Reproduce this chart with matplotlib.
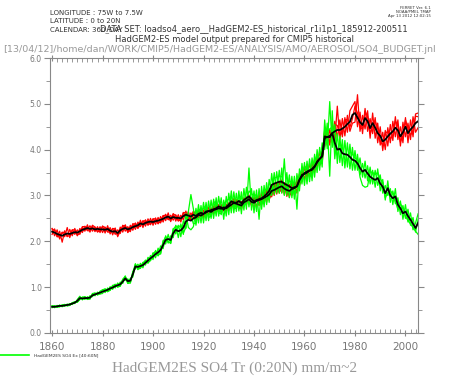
import numpy as np
import matplotlib.pyplot as plt
from matplotlib.ticker import MultipleLocator, FormatStrFormatter

years = np.arange(1860, 2006)

# ensemble mean, red (Tr 0:20N)
red_mean = [2.21, 2.19, 2.16, 2.14, 2.12, 2.15, 2.17, 2.16, 2.18, 2.20,
            2.19, 2.22, 2.25, 2.27, 2.29, 2.27, 2.28, 2.26, 2.27, 2.26,
            2.26, 2.25, 2.27, 2.23, 2.21, 2.22, 2.18, 2.24, 2.27, 2.29,
            2.26, 2.28, 2.31, 2.33, 2.35, 2.39, 2.37, 2.40, 2.42, 2.43,
            2.42, 2.44, 2.45, 2.47, 2.49, 2.52, 2.54, 2.50, 2.53, 2.51,
            2.51, 2.50, 2.55, 2.58, 2.56, 2.54, 2.58, 2.55, 2.60, 2.62,
            2.60, 2.63, 2.66, 2.64, 2.68, 2.70, 2.72, 2.71, 2.74, 2.72,
            2.76, 2.80, 2.84, 2.82, 2.80, 2.78, 2.85, 2.88, 2.92, 2.86,
            2.84, 2.88, 2.90, 2.92, 2.95, 2.98, 3.02, 3.10, 3.12, 3.15,
            3.18, 3.20, 3.15, 3.12, 3.10, 3.14, 3.16, 3.20, 3.34, 3.42,
            3.49, 3.52, 3.55, 3.58, 3.64, 3.72, 3.80, 3.86, 4.25, 4.28,
            4.27, 4.36, 4.40, 4.43, 4.43, 4.46, 4.50, 4.56, 4.61, 4.76,
            4.80, 4.70, 4.60, 4.54, 4.69, 4.62, 4.47, 4.58, 4.48, 4.36,
            4.30, 4.18, 4.22, 4.29, 4.35, 4.40, 4.48, 4.42, 4.29, 4.38,
            4.50, 4.36, 4.44, 4.50, 4.58, 4.62]

red_r1 = [2.28, 2.12, 2.25, 2.05, 2.20, 2.10, 2.30, 2.08, 2.25, 2.15,
          2.25, 2.15, 2.30, 2.22, 2.36, 2.20, 2.33, 2.21, 2.32, 2.19,
          2.33, 2.18, 2.34, 2.16, 2.28, 2.15, 2.25, 2.17, 2.35, 2.22,
          2.32, 2.21, 2.38, 2.26, 2.42, 2.32, 2.45, 2.33, 2.49, 2.36,
          2.49, 2.37, 2.52, 2.40, 2.56, 2.45, 2.62, 2.43, 2.60, 2.44,
          2.58, 2.42, 2.63, 2.50, 2.65, 2.46, 2.66, 2.47, 2.68, 2.54,
          2.68, 2.55, 2.75, 2.56, 2.77, 2.62, 2.80, 2.63, 2.83, 2.64,
          2.84, 2.71, 2.93, 2.74, 2.89, 2.69, 2.95, 2.79, 3.01, 2.77,
          2.96, 2.74, 3.02, 2.80, 3.08, 2.85, 3.15, 2.97, 3.25, 3.03,
          3.31, 3.06, 3.28, 2.98, 3.24, 3.00, 3.30, 3.05, 3.48, 3.30,
          3.64, 3.38, 3.70, 3.45, 3.80, 3.58, 3.96, 3.70, 4.42, 4.10,
          4.45, 4.15, 4.62, 4.25, 4.65, 4.28, 4.70, 4.38, 4.85, 4.95,
          5.05, 4.50, 4.82, 4.35, 4.90, 4.40, 4.68, 4.35, 4.70, 4.15,
          4.50, 3.98, 4.42, 4.08, 4.55, 4.20, 4.72, 4.22, 4.50, 4.15,
          4.70, 4.15, 4.65, 4.28, 4.78, 4.80]

red_r2 = [2.15, 2.27, 2.10, 2.22, 1.98, 2.23, 2.10, 2.26, 2.12, 2.28,
          2.12, 2.28, 2.19, 2.33, 2.24, 2.34, 2.22, 2.31, 2.20, 2.32,
          2.19, 2.31, 2.20, 2.30, 2.14, 2.29, 2.10, 2.31, 2.20, 2.36,
          2.19, 2.35, 2.24, 2.40, 2.28, 2.46, 2.30, 2.47, 2.35, 2.50,
          2.35, 2.51, 2.38, 2.54, 2.42, 2.59, 2.47, 2.57, 2.46, 2.58,
          2.44, 2.57, 2.47, 2.66, 2.48, 2.62, 2.50, 2.63, 2.52, 2.70,
          2.52, 2.71, 2.58, 2.73, 2.60, 2.79, 2.64, 2.80, 2.66, 2.81,
          2.68, 2.89, 2.76, 2.91, 2.71, 2.87, 2.76, 2.97, 2.83, 2.95,
          2.70, 3.00, 2.78, 3.05, 2.82, 3.12, 2.90, 3.22, 3.00, 3.28,
          3.05, 3.34, 3.02, 3.26, 2.96, 3.28, 3.02, 3.35, 3.20, 3.55,
          3.35, 3.66, 3.40, 3.72, 3.50, 3.88, 3.65, 4.02, 4.08, 4.45,
          4.10, 4.60, 4.20, 4.95, 4.22, 4.68, 4.30, 4.75, 4.40, 4.58,
          4.60, 5.20, 4.40, 4.75, 4.45, 4.85, 4.25, 4.80, 4.25, 4.58,
          4.10, 4.38, 4.00, 4.48, 4.15, 4.62, 4.28, 4.65, 4.08, 4.60,
          4.28, 4.58, 4.22, 4.72, 4.38, 4.48]

red_r3 = [2.27, 2.24, 2.10, 2.10, 2.19, 2.20, 2.11, 2.12, 2.25, 2.25,
          2.13, 2.18, 2.32, 2.32, 2.23, 2.23, 2.35, 2.31, 2.21, 2.22,
          2.33, 2.30, 2.21, 2.19, 2.28, 2.27, 2.12, 2.20, 2.34, 2.34,
          2.20, 2.24, 2.38, 2.38, 2.29, 2.35, 2.44, 2.45, 2.36, 2.39,
          2.49, 2.49, 2.39, 2.43, 2.56, 2.57, 2.48, 2.46, 2.60, 2.56,
          2.45, 2.46, 2.62, 2.63, 2.50, 2.50, 2.65, 2.60, 2.54, 2.58,
          2.68, 2.68, 2.59, 2.60, 2.75, 2.75, 2.65, 2.67, 2.81, 2.77,
          2.69, 2.75, 2.92, 2.88, 2.72, 2.73, 2.93, 2.94, 2.84, 2.81,
          2.94, 2.95, 2.80, 2.86, 3.05, 3.06, 2.92, 3.03, 3.22, 3.22,
          3.08, 3.13, 3.25, 3.19, 3.00, 3.07, 3.26, 3.27, 3.24, 3.35,
          3.62, 3.62, 3.43, 3.50, 3.77, 3.82, 3.68, 3.78, 4.40, 4.38,
          4.15, 4.26, 4.55, 4.53, 4.31, 4.38, 4.65, 4.66, 4.49, 4.68,
          4.95, 4.80, 4.48, 4.46, 4.84, 4.72, 4.35, 4.50, 4.63, 4.46,
          4.18, 4.10, 4.37, 4.39, 4.23, 4.32, 4.63, 4.52, 4.17, 4.30,
          4.65, 4.46, 4.32, 4.42, 4.73, 4.72]

# ensemble mean, green (Ex 40:60N)
green_mean = [0.57, 0.57, 0.58, 0.59, 0.59, 0.60, 0.61, 0.62, 0.64, 0.66,
              0.70, 0.76, 0.75, 0.76, 0.76, 0.77, 0.82, 0.84, 0.86, 0.88,
              0.90, 0.92, 0.94, 0.97, 0.99, 1.02, 1.04, 1.06, 1.12, 1.19,
              1.13, 1.14, 1.28, 1.45, 1.44, 1.46, 1.48, 1.53, 1.58, 1.63,
              1.67, 1.72, 1.76, 1.81, 1.92, 2.03, 2.05, 2.03, 2.18, 2.25,
              2.22, 2.24, 2.30, 2.43, 2.47, 2.45, 2.50, 2.52, 2.58, 2.56,
              2.60, 2.65, 2.66, 2.68, 2.70, 2.72, 2.76, 2.74, 2.69, 2.75,
              2.80, 2.87, 2.85, 2.84, 2.88, 2.83, 2.90, 2.94, 2.98, 2.92,
              2.87, 2.90, 2.92, 2.94, 2.98, 3.03, 3.10, 3.23, 3.26, 3.28,
              3.30, 3.30, 3.26, 3.23, 3.20, 3.16, 3.18, 3.20, 3.34, 3.45,
              3.47, 3.50, 3.54, 3.56, 3.62, 3.74, 3.80, 3.85, 4.29, 4.27,
              4.30, 4.36, 4.15, 4.00, 4.02, 3.92, 3.90, 3.89, 3.84, 3.78,
              3.76, 3.70, 3.60, 3.52, 3.56, 3.48, 3.41, 3.37, 3.34, 3.38,
              3.26, 3.19, 3.05, 3.16, 3.00, 2.94, 2.98, 2.80, 2.72, 2.61,
              2.65, 2.55, 2.47, 2.38, 2.29, 2.40]

green_g1 = [0.59, 0.55, 0.60, 0.57, 0.61, 0.58, 0.63, 0.60, 0.66, 0.64,
            0.73, 0.80, 0.72, 0.79, 0.73, 0.81, 0.79, 0.87, 0.83, 0.91,
            0.94, 0.88, 0.98, 0.93, 1.04, 0.98, 1.09, 1.02, 1.17, 1.15,
            1.18, 1.09, 1.34, 1.40, 1.50, 1.41, 1.54, 1.48, 1.65, 1.58,
            1.75, 1.64, 1.85, 1.72, 2.02, 1.94, 2.15, 1.95, 2.28, 2.16,
            2.35, 2.10, 2.45, 2.28, 2.65, 3.02, 2.70, 2.35, 2.80, 2.40,
            2.85, 2.45, 2.88, 2.50, 2.92, 2.55, 2.98, 2.58, 2.90, 2.55,
            3.05, 2.62, 3.08, 2.65, 3.10, 2.60, 3.15, 2.70, 3.60, 2.68,
            3.10, 2.65, 3.15, 2.70, 3.22, 2.80, 3.35, 3.00, 3.50, 3.05,
            3.55, 3.05, 3.80, 3.00, 3.45, 2.95, 3.42, 2.70, 3.58, 3.25,
            3.72, 3.25, 3.80, 3.32, 3.90, 3.50, 4.05, 3.62, 4.65, 4.02,
            5.05, 4.05, 4.55, 3.70, 4.30, 3.65, 4.20, 3.62, 4.12, 3.55,
            3.98, 3.55, 3.82, 3.40, 3.75, 3.32, 3.62, 3.25, 3.55, 3.22,
            3.45, 3.05, 3.22, 3.00, 3.15, 2.80, 3.15, 2.65, 2.88, 2.48,
            2.80, 2.42, 2.62, 2.25, 2.40, 2.60]

green_g2 = [0.55, 0.59, 0.56, 0.61, 0.57, 0.62, 0.59, 0.64, 0.62, 0.68,
            0.67, 0.73, 0.78, 0.73, 0.79, 0.74, 0.85, 0.81, 0.89, 0.85,
            0.86, 0.96, 0.90, 1.01, 0.95, 1.06, 1.00, 1.11, 1.08, 1.24,
            1.08, 1.19, 1.22, 1.51, 1.38, 1.52, 1.42, 1.59, 1.52, 1.69,
            1.60, 1.80, 1.68, 1.90, 1.84, 2.12, 1.96, 2.12, 2.08, 2.35,
            2.08, 2.38, 2.15, 2.60, 2.30, 2.25, 2.32, 2.72, 2.40, 2.78,
            2.40, 2.85, 2.45, 2.90, 2.50, 2.95, 2.55, 2.95, 2.48, 2.98,
            2.58, 3.10, 2.62, 3.05, 2.66, 3.08, 2.68, 3.18, 2.75, 3.15,
            2.62, 3.12, 2.48, 3.20, 2.75, 3.28, 2.85, 3.48, 3.02, 3.52,
            3.05, 3.60, 3.00, 3.50, 2.95, 3.42, 2.92, 3.48, 3.10, 3.70,
            3.22, 3.75, 3.30, 3.82, 3.40, 4.00, 3.55, 4.15, 4.00, 4.58,
            3.42, 4.85, 3.80, 4.35, 3.72, 4.22, 3.60, 4.15, 3.58, 4.05,
            3.55, 3.90, 3.45, 3.70, 3.38, 3.65, 3.25, 3.55, 3.18, 3.58,
            3.10, 3.35, 2.90, 3.32, 2.85, 3.10, 2.82, 2.95, 2.58, 2.78,
            2.50, 2.70, 2.35, 2.52, 2.20, 2.48]

green_g3 = [0.59, 0.59, 0.56, 0.57, 0.61, 0.62, 0.59, 0.60, 0.66, 0.68,
            0.67, 0.73, 0.78, 0.79, 0.73, 0.74, 0.86, 0.87, 0.83, 0.85,
            0.94, 0.96, 0.90, 0.93, 1.03, 1.06, 1.00, 1.02, 1.17, 1.24,
            1.08, 1.09, 1.33, 1.50, 1.39, 1.41, 1.53, 1.58, 1.53, 1.58,
            1.73, 1.78, 1.69, 1.74, 1.99, 2.10, 1.98, 1.96, 2.26, 2.33,
            2.32, 2.34, 2.18, 2.30, 2.58, 2.55, 2.38, 2.40, 2.70, 2.68,
            2.72, 2.78, 2.52, 2.55, 2.85, 2.86, 2.62, 2.60, 2.82, 2.88,
            2.92, 2.99, 2.72, 2.72, 3.00, 2.95, 2.78, 2.82, 3.10, 3.04,
            2.99, 3.02, 2.80, 2.82, 3.10, 3.15, 2.98, 3.11, 3.38, 3.40,
            3.42, 3.42, 3.14, 3.11, 3.32, 3.28, 3.06, 3.08, 3.46, 3.57,
            3.60, 3.62, 3.42, 3.44, 3.76, 3.88, 3.68, 3.73, 4.45, 4.40,
            4.45, 4.50, 4.02, 3.88, 4.15, 4.05, 3.78, 3.77, 3.96, 3.90,
            3.82, 3.78, 3.40, 3.22, 3.18, 3.20, 3.52, 3.50, 3.46, 3.50,
            3.36, 3.29, 2.95, 3.06, 3.10, 3.04, 2.88, 2.70, 2.82, 2.71,
            2.55, 2.45, 2.38, 2.30, 2.22, 2.15]

fig = plt.figure(figsize=(4.51, 3.77), dpi=100)
ax = fig.add_axes([0.111, 0.117, 0.816, 0.729])

for m in (red_r1, red_r2, red_r3):
    ax.plot(years, m, color='#ff0000', lw=0.9)
for m in (green_g1, green_g2, green_g3):
    ax.plot(years, m, color='#00ff00', lw=0.9)
ax.plot(years, red_mean, color='black', lw=1.3)
ax.plot(years, green_mean, color='black', lw=1.3)

ax.set_xlim(1859.2, 2005)
ax.set_ylim(0, 6)

grey = '#777777'
for s in ax.spines.values():
    s.set_color('#888888')
    s.set_linewidth(0.8)

ax.xaxis.set_major_locator(MultipleLocator(20))
ax.xaxis.set_minor_locator(MultipleLocator(2))
ax.yaxis.set_major_locator(MultipleLocator(1))
ax.yaxis.set_minor_locator(MultipleLocator(0.5))
ax.yaxis.set_major_formatter(FormatStrFormatter('%.1f'))

ax.tick_params(axis='x', which='major', direction='inout', length=5, top=True,
               color='#888888', labelsize=7.5, labelcolor=grey, pad=4)
ax.tick_params(axis='x', which='minor', direction='in', length=3, top=True,
               color='#888888')
ax.tick_params(axis='y', which='major', direction='out', length=4, right=True,
               color='#888888', labelsize=5.5, labelcolor=grey, pad=2)
ax.tick_params(axis='y', which='minor', direction='out', length=3, right=True,
               color='#888888')

# header text
fig.text(0.111, 0.965, 'LONGITUDE : 75W to 7.5W', fontsize=5, color='#333333', va='center')
fig.text(0.111, 0.943, 'LATITUDE : 0 to 20N', fontsize=5, color='#333333', va='center')
fig.text(0.111, 0.921, 'CALENDAR: 360_DAY', fontsize=5, color='#333333', va='center')
fig.text(0.222, 0.921, 'DATA SET: loadso4_aero__HadGEM2-ES_historical_r1i1p1_185912-200511',
         fontsize=6, color='#333333', va='center')
fig.text(0.52, 0.895, 'HadGEM2-ES model output prepared for CMIP5 historical',
         fontsize=6, color='#333333', ha='center', va='center')
fig.text(0.008, 0.868, '[13/04/12]/home/dan/WORK/CMIP5/HadGEM2-ES/ANALYSIS/AMO/AEROSOL/SO4_BUDGET.jnl',
         fontsize=6.8, color='#999999', va='center')
fig.text(0.955, 0.985, 'FERRET Ver. 6.1\nNOAA/PMEL TMAP\nApr 13 2012 12:02:15',
         fontsize=2.8, color='#333333', ha='right', va='top', linespacing=1.1)

# legend line + bottom label
fig.add_artist(plt.Line2D([0.0, 0.065], [0.058, 0.058], color='#00ff00', lw=1.2,
                          transform=fig.transFigure))
fig.text(0.075, 0.057, 'HadGEM2ES SO4 Ex [40:60N]', fontsize=3.2, color='#333333', va='center')
fig.text(0.52, 0.022, 'HadGEM2ES SO4 Tr (0:20N) mm/m~2', fontsize=11, color='#999999',
         family='Liberation Serif', ha='center', va='center')

fig.savefig('out.png', dpi=100)
